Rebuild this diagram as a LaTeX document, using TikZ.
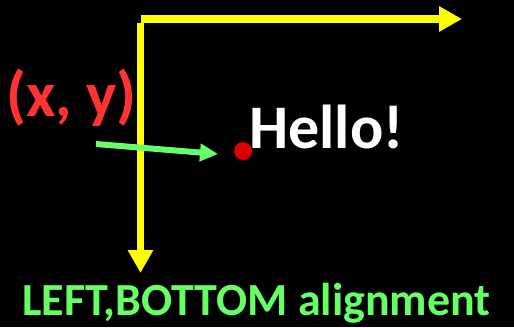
\documentclass[tikz,border=0pt]{standalone}
\usepackage{fontspec}
\setmainfont{Carlito}
\usetikzlibrary{arrows.meta}
\definecolor{axisyellow}{RGB}{255,255,0}
\definecolor{labelred}{RGB}{255,51,51}
\definecolor{dotred}{RGB}{221,0,0}
\definecolor{hintgreen}{RGB}{102,255,102}
\tikzset{
  axis/.style={draw=axisyellow,line width=7.5pt,-{Triangle[length=23pt,width=24pt]}},
  pointer/.style={draw=hintgreen,line width=6pt,-{Triangle[length=18pt,width=17pt]}},
  bigtext/.style={font=\bfseries\fontsize{#1}{#1}\selectfont,inner sep=0pt}
}
\begin{document}
\begin{tikzpicture}[x=1pt,y=-1pt]
\useasboundingbox (0,0) rectangle (514,327);
\fill[black] (0,0) rectangle (514,327);

% axes
\coordinate (xstart) at (141,19);
\coordinate (xend) at (462,19);
\coordinate (ystart) at (140.5,23);
\coordinate (yend) at (140.5,273);
\draw[axis] (xstart) -- (xend);
\draw[axis] (ystart) -- (yend);

% the point and its text
\node[circle,fill=dotred,minimum size=18pt,inner sep=0pt] (dot) at (243,151) {};
\node[bigtext=62,text=white,anchor=base west] (hello) at (249,148) {Hello!};

\node[bigtext=64,text=labelred,anchor=base west] (xy) at (6,116) {(x, y)};
\coordinate (tail) at (96,144);
\coordinate (tip) at (218,154);
\draw[pointer] (tail) -- (tip);

\node[bigtext=46,text=hintgreen,anchor=base west] (caption) at (22,315) {LEFT,BOTTOM alignment};
\end{tikzpicture}
\end{document}
